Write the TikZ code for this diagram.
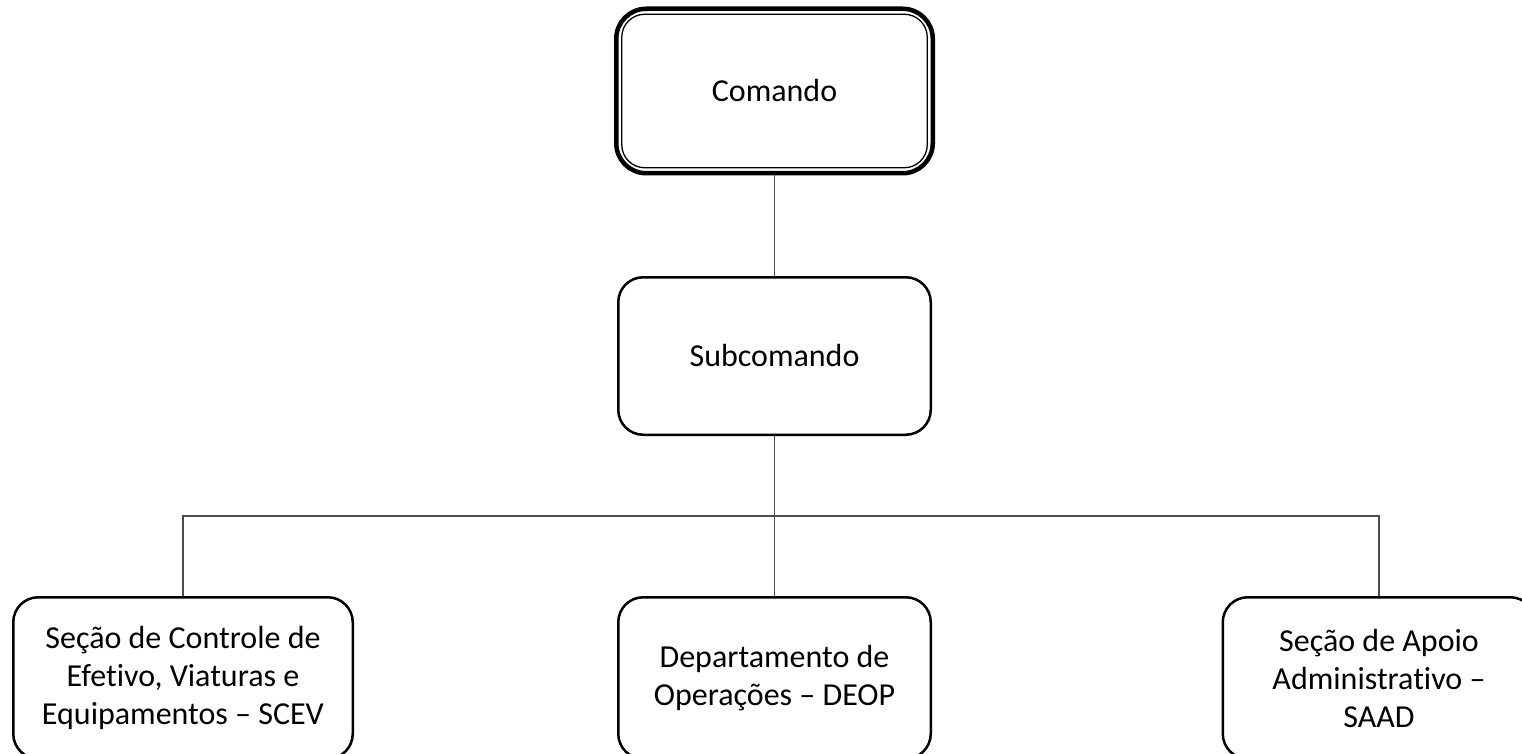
\documentclass[tikz,border=0pt]{standalone}
\usepackage{fontspec}
\setmainfont{Carlito}[Ligatures=NoCommon]
\begin{document}
\begin{tikzpicture}[x=1pt,y=-1pt,
  box/.style={draw, line width=2.5pt, rounded corners=25pt, align=center,
    font=\fontsize{32}{38}\selectfont, inner sep=0pt},
  conn/.style={draw=black!70, line width=1.3pt}]
\useasboundingbox (0,0) rectangle (1522,754);
\clip (0,0) rectangle (1522,754);
\fill[white] (0,0) rectangle (1522,754);
\node[box, line width=4.5pt, rounded corners=30pt, minimum width=316.5pt, minimum height=164.5pt] (comando) at (774.5,91) {Comando};
\node[draw, line width=1.3pt, rounded corners=23pt, minimum width=305.5pt, minimum height=153.5pt, inner sep=0pt] (comandoin) at (774.5,91) {};
\node[box, minimum width=312.5pt, minimum height=157.5pt] (sub) at (774.5,356) {Subcomando};
\node[box, minimum width=339.5pt, minimum height=161.5pt] (scev) at (183,678) {Seção de Controle de\\Efetivo, Viaturas e\\Equipamentos – SCEV};
\node[box, minimum width=312.5pt, minimum height=161.5pt] (deop) at (774.5,678) {Departamento de\\Operações – DEOP};
\node[box, minimum width=312.5pt, minimum height=161.5pt] (saad) at (1379,678) {Seção de Apoio\\Administrativo –\\SAAD};
\coordinate (busc) at (774.5,516);
\draw[conn] (comando.south) -- (sub.north);
\draw[conn] (sub.south) -- (busc);
\draw[conn] (scev.north) |- (busc) -| (saad.north);
\draw[conn] (busc) -- (deop.north);
\end{tikzpicture}
\end{document}
